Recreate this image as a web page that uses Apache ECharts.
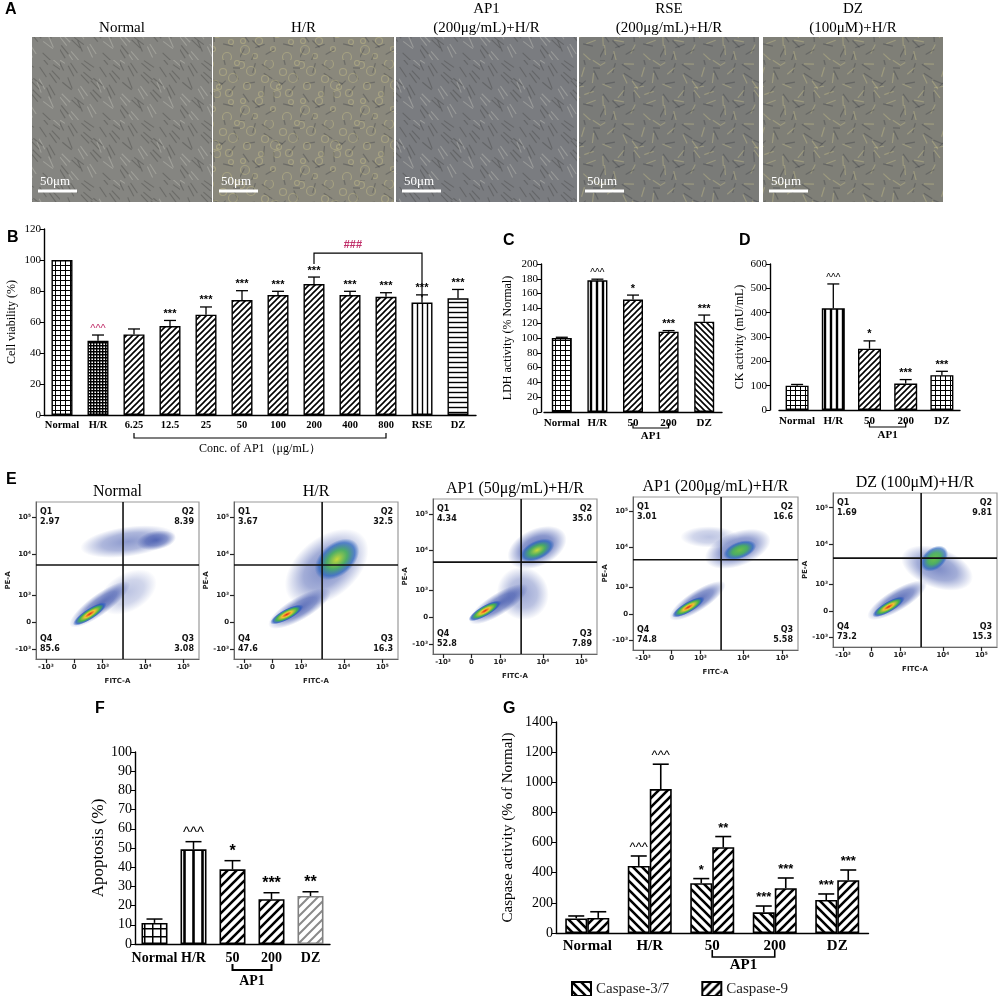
<!DOCTYPE html>
<html>
<head>
<meta charset="utf-8">
<title>AP1 H/R figure</title>
<script src="https://cdn.jsdelivr.net/npm/echarts@6.0.0/dist/echarts.min.js"></script>
<style>
html,body{margin:0;padding:0;background:#fff}
#fig{width:1000px;height:996px}
</style>
</head>
<body>
<div id="fig"></div>
<script>
// ---- data ----
// B: cell viability
var bCats = ['Normal', 'H/R', '6.25', '12.5', '25', '50', '100', '200', '400', '800', 'RSE', 'DZ'];
var bMean = [100, 47.9, 52, 57.4, 64.7, 74.2, 77.4, 84.5, 77.4, 76.3, 72.5, 75.3];
var bErr = [0, 3.7, 3.5, 3.6, 5, 6, 2.4, 4.5, 2.4, 2.6, 5, 5.7];
var bSig = ['', '^^^', '', '***', '***', '***', '***', '***', '***', '***', '***', '***'];
var bFill = ['grid', 'check', 'diag', 'diag', 'diag', 'diag', 'diag', 'diag', 'diag', 'diag', 'vert', 'horiz'];
var bCompare = [[7, 10, 104.5, 97.4, 76]]; // from cat, to cat, bar height, left leg end, right leg end

// C: LDH
var cCats = ['Normal', 'H/R', '50', '200', 'DZ'];
var cMean = [100, 178, 152, 108.5, 122];
var cErr = [1, 1.5, 6, 1.5, 9];
var cSig = ['', '^^^', '*', '***', '***'];
var cFill = ['grid', 'vbold', 'diag', 'diag', 'back'];

// D: CK
var dCats = ['Normal', 'H/R', '50', '200', 'DZ'];
var dMean = [100, 418, 252, 109, 143];
var dErr = [5, 100, 32, 16, 16];
var dSig = ['', '^^^', '*', '***', '***'];
var dFill = ['grid', 'vbold', 'diag', 'diag', 'grid'];

// E: flow cytometry quadrants
var eTitles = ['Normal', 'H/R', 'AP1 (50μg/mL)+H/R', 'AP1 (200μg/mL)+H/R', 'DZ (100μM)+H/R'];
var eQ1 = [2.97, 3.67, 4.34, 3.01, 1.69];
var eQ2 = [8.39, 32.5, 35.0, 16.6, 9.81];
var eQ3 = [3.08, 16.3, 7.89, 5.58, 15.3];
var eQ4 = [85.6, 47.6, 52.8, 74.8, 73.2];
var eGateX = [2.72, 2.74, 2.74, 2.72, 2.74];
var eGateY = [3.09, 3.09, 3.06, 3.04, 2.97];
var eTickPos = [0, 1, 2, 3.5, 4.85];
var eTickText = ['-10³', '0', '10³', '10⁴', '10⁵'];
// estimated cell populations: [centre x, centre y, half-width, half-height, angle deg, level]
var popNormal = [[2.9, 2.1, 1.1, 0.7, 30, 0.2], [2.9, 3.95, 1.7, 0.55, 8, 0.35], [3.9, 4.0, 0.7, 0.35, 10, 0.45],
    [1.9, 1.65, 1.3, 0.38, 36, 0.5], [1.55, 1.3, 0.7, 0.2, 33, 3]];
var popHR = [[2.9, 3.0, 1.7, 1.1, 40, 0.4], [3.26, 3.3, 0.9, 0.6, 40, 2],
    [1.95, 1.5, 1.25, 0.42, 30, 0.5], [1.5, 1.28, 0.65, 0.2, 28, 3]];
var popAP50 = [[2.8, 1.9, 0.9, 1.0, 30, 0.3], [3.3, 3.6, 1.1, 0.7, 25, 0.5], [3.3, 3.5, 0.65, 0.35, 25, 2],
    [1.95, 1.5, 1.2, 0.4, 32, 0.5], [1.47, 1.25, 0.65, 0.2, 30, 3]];
var popAP200 = [[2.3, 3.9, 1.0, 0.4, 0, 0.2], [3.3, 3.45, 1.2, 0.65, 20, 0.45], [3.37, 3.4, 0.6, 0.32, 20, 1.4],
    [1.9, 1.5, 1.15, 0.38, 33, 0.5], [1.58, 1.26, 0.65, 0.2, 30, 3]];
var popDZ = [[3.3, 2.6, 0.7, 1.4, 70, 0.4], [3.2, 2.95, 0.55, 0.4, 40, 1.4],
    [1.9, 1.4, 1.2, 0.4, 31, 0.5], [1.6, 1.15, 0.65, 0.2, 30, 3]];

// F: apoptosis
var fCats = ['Normal', 'H/R', '50', '200', 'DZ'];
var fMean = [11, 49.3, 38.9, 23.3, 25];
var fErr = [2, 4, 4.5, 3.4, 2.2];
var fSig = ['', '^^^', '*', '***', '**'];
var fFill = ['gridL', 'vboldL', 'diagL', 'diagL', 'diagGray'];

// G: caspase activity
var gCats = ['Normal', 'H/R', '50', '200', 'DZ'];
var gNames = ['Caspase-3/7', 'Caspase-9'];
var g37Mean = [97, 445, 330, 137, 219];
var g37Err = [16, 66, 31, 42, 40];
var g37Sig = ['', '^^^', '*', '***', '***'];
var g9Mean = [100, 955, 569, 297, 350];
var g9Err = [41, 165, 71, 68, 68];
var g9Sig = ['', '^^^', '**', '***', '***'];

// A: micrograph panel captions
var aTitles = [['Normal'], ['H/R'], ['AP1', '(200μg/mL)+H/R'], ['RSE', '(200μg/mL)+H/R'], ['DZ', '(100μM)+H/R']];

var SERIF = '"Liberation Serif","Times New Roman",serif';
var SANS = '"Liberation Sans",Arial,sans-serif';

// hatch fills
function pattern(kind, size, lw, color) {
    var c = document.createElement('canvas');
    c.width = size; c.height = size;
    var g = c.getContext('2d');
    g.fillStyle = '#fff';
    g.fillRect(0, 0, size, size);
    g.strokeStyle = color || '#000';
    g.lineWidth = lw;
    g.beginPath();
    if (kind == 'grid') {
        g.moveTo(0, lw / 2); g.lineTo(size, lw / 2);
        g.moveTo(lw / 2, 0); g.lineTo(lw / 2, size);
    } else if (kind == 'vert') {
        g.moveTo(size / 2, 0); g.lineTo(size / 2, size);
    } else if (kind == 'horiz') {
        g.moveTo(0, size / 2); g.lineTo(size, size / 2);
    } else if (kind == 'diag') {
        g.moveTo(0, size); g.lineTo(size, 0);
        g.moveTo(-size / 2, size / 2); g.lineTo(size / 2, -size / 2);
        g.moveTo(size / 2, size * 1.5); g.lineTo(size * 1.5, size / 2);
    } else {
        g.moveTo(0, 0); g.lineTo(size, size);
        g.moveTo(-size / 2, size / 2); g.lineTo(size / 2, size * 1.5);
        g.moveTo(size / 2, -size / 2); g.lineTo(size * 1.5, size / 2);
    }
    g.stroke();
    return {image: c, repeat: 'repeat'};
}
var PAT = {
    grid: pattern('grid', 5, 1),
    check: pattern('grid', 3, 1.4),
    diag: pattern('diag', 6, 1.6),
    back: pattern('back', 6, 1.6),
    vert: pattern('vert', 5, 1.4),
    horiz: pattern('horiz', 5, 1.4),
    vbold: pattern('vert', 6, 2.4),
    gridL: pattern('grid', 8, 1.5),
    vboldL: pattern('vert', 9, 2.6),
    diagL: pattern('diag', 9, 2.6),
    backL: pattern('back', 9, 2.6),
    diagGray: pattern('diag', 9, 2, '#8a8a8a')
};

// rough phase-contrast look for the micrograph placeholders
function texture(tone, kind) {
    var c = document.createElement('canvas');
    c.width = 60; c.height = 60;
    var g = c.getContext('2d');
    g.fillStyle = tone;
    g.fillRect(0, 0, 60, 60);
    for (var i = 0; i < 40; i++) {
        var x = (i * 37) % 60, y = (i * 23 + (i % 7) * 11) % 60;
        var a = ((i * 53) % 180) * Math.PI / 180;
        if (kind == 'spindle') {
            g.strokeStyle = i % 3 ? 'rgba(60,60,58,0.35)' : 'rgba(200,200,190,0.4)';
            g.lineWidth = 1.1;
            g.beginPath();
            g.moveTo(x - 6 * Math.cos(0.6 + a * 0.2), y - 6 * Math.sin(0.6 + a * 0.2));
            g.lineTo(x + 6 * Math.cos(0.6 + a * 0.2), y + 6 * Math.sin(0.6 + a * 0.2));
            g.stroke();
        } else {
            g.strokeStyle = i % 2 ? 'rgba(215,205,140,0.35)' : 'rgba(55,58,65,0.35)';
            g.lineWidth = 1.2;
            g.beginPath();
            if (kind == 'blob' && i % 2) g.arc(x, y, 2.5 + (i % 3), 0, Math.PI * 2);
            else { g.moveTo(x - 5 * Math.cos(a), y - 5 * Math.sin(a)); g.lineTo(x + 5 * Math.cos(a), y + 5 * Math.sin(a)); }
            g.stroke();
        }
    }
    return {image: c, repeat: 'repeat'};
}

// ---- helpers ----
function barX(idx, cats, fs, margin) {
    return {
        gridIndex: idx, type: 'category', data: cats,
        axisLine: {lineStyle: {color: '#000', width: 1.4}},
        axisTick: {alignWithLabel: true, length: 4, lineStyle: {color: '#000'}},
        axisLabel: {fontFamily: SERIF, fontWeight: 'bold', fontSize: fs, color: '#000', margin: margin, interval: 0}
    };
}
function barY(idx, max, step, name, fs, nfs, gap, offset) {
    return {
        gridIndex: idx, type: 'value', min: 0, max: max, interval: step, offset: offset || 0,
        name: name, nameLocation: 'middle', nameGap: gap,
        nameTextStyle: {fontFamily: SERIF, fontSize: nfs, color: '#000'},
        axisLine: {show: true, lineStyle: {color: '#000', width: 1.4}},
        axisTick: {show: true, length: 4, lineStyle: {color: '#000'}},
        axisLabel: {fontFamily: SERIF, fontSize: fs, color: '#000', margin: 3, formatter: function (v) { return String(v); }},
        splitLine: {show: false}
    };
}
function bars(idx, name, means, fills, width, lw) {
    return {
        type: 'bar', name: name, xAxisIndex: idx, yAxisIndex: idx, barWidth: width,
        data: means.map(function (m, i) {
            return {value: m, itemStyle: {color: PAT[fills[i]], borderColor: fills[i] == 'diagGray' ? '#808080' : '#000'}};
        }),
        itemStyle: {borderColor: '#000', borderWidth: lw}
    };
}
function errors(idx, means, errs, sigs, o) {
    return {
        type: 'custom', xAxisIndex: idx, yAxisIndex: idx, z: 5,
        data: means.map(function (m, i) { return [i, m, errs[i]]; }),
        renderItem: function (params, api) {
            var i = api.value(0), m = api.value(1), e = api.value(2);
            var p0 = api.coord([i, m]), p1 = api.coord([i, m + e]);
            var x = p0[0] + (o.off || 0);
            var kids = [];
            var ls = {stroke: '#000', lineWidth: o.lw};
            if (e > 0) {
                kids.push({type: 'line', shape: {x1: x, y1: p0[1], x2: x, y2: p1[1]}, style: ls});
                kids.push({type: 'line', shape: {x1: x - o.cap, y1: p1[1], x2: x + o.cap, y2: p1[1]}, style: ls});
            }
            var s = sigs[params.dataIndex];
            if (s) {
                kids.push({
                    type: 'text', x: x, y: p1[1] - o.gap,
                    style: {text: s, font: s == '^^^' ? o.caretFont : o.font, fill: s == '^^^' && o.caretColor ? o.caretColor : '#000',
                        align: 'center', verticalAlign: 'bottom'}
                });
            }
            return {type: 'group', children: kids};
        }
    };
}
function bracket(idx, span, label, o) {
    return {
        type: 'custom', xAxisIndex: idx, yAxisIndex: idx, silent: true,
        data: [span],
        renderItem: function (params, api) {
            var a = api.coord([api.value(0), 0]), b = api.coord([api.value(1), 0]);
            var y = a[1] + o.dy;
            return {type: 'group', children: [
                {type: 'polyline', shape: {points: [[a[0], y - o.tick], [a[0], y], [b[0], y], [b[0], y - o.tick]]},
                    style: {stroke: '#000', lineWidth: o.lw, fill: null}},
                {type: 'text', x: (a[0] + b[0]) / 2 + (o.tx || 0), y: y + o.ty,
                    style: {text: label, font: o.font, fill: '#000', align: 'center', verticalAlign: 'top'}}
            ]};
        }
    };
}

// ---- layout ----
var flowBox = [
    {left: 36, top: 502, width: 163, height: 157},
    {left: 234, top: 502, width: 164, height: 157},
    {left: 433, top: 499, width: 164, height: 155},
    {left: 633, top: 497, width: 165, height: 153},
    {left: 833, top: 493, width: 164, height: 154}
];
var grids = [
    {left: 44, top: 229, width: 432, height: 186},
    {left: 544, top: 264, width: 178, height: 148},
    {left: 779, top: 264, width: 181, height: 146}
];
flowBox.forEach(function (b) {
    grids.push({left: b.left, top: b.top, width: b.width, height: b.height, show: true, borderColor: '#9a9a9a', borderWidth: 1.2});
});
grids.push({left: 135, top: 752, width: 195, height: 192});
grids.push({left: 556, top: 722, width: 312.5, height: 211});
grids.forEach(function (g) { g.outerBoundsMode = 'none'; });

var xAxes = [barX(0, bCats, 10.5, 5), barX(1, cCats, 11, 6), barX(2, dCats, 11, 6)];
var yAxes = [
    barY(0, 120, 20, 'Cell viability (%)', 11, 12, 26),
    barY(1, 200, 20, 'LDH activity (% Normal)', 11, 12, 27, 3),
    barY(2, 600, 100, 'CK activity (mU/mL)', 11, 12, 24, 9)
];
function flowLabel(v) {
    var k = eTickPos.indexOf(v);
    return k < 0 ? '' : eTickText[k];
}
for (var k = 0; k < 5; k++) {
    var common = {
        gridIndex: 3 + k, type: 'value', min: -0.35, max: 5.4,
        axisLine: {show: true, onZero: false, lineStyle: {color: '#666', width: 1}},
        axisTick: {show: true, customValues: eTickPos, length: 4, lineStyle: {color: '#222', width: 1.2}},
        axisLabel: {customValues: eTickPos, formatter: flowLabel, fontFamily: '"DejaVu Sans",sans-serif', fontSize: 7, fontWeight: 'bold', color: '#222', margin: 5},
        splitLine: {show: false},
        nameLocation: 'middle',
        nameTextStyle: {fontFamily: '"DejaVu Sans",sans-serif', fontSize: 7, fontWeight: 'bold', color: '#222'}
    };
    xAxes.push(Object.assign({}, common, {name: 'FITC-A', nameGap: 19}));
    yAxes.push(Object.assign({}, common, {name: 'PE-A', nameGap: 22}));
}
xAxes.push(barX(8, fCats, 14, 7));
yAxes.push(barY(8, 100, 10, 'Apoptosis (%)', 14, 17, 27));
xAxes.push(barX(9, gCats, 15, 6));
yAxes.push(barY(9, 1400, 200, 'Caspase activity (% of Normal)', 14, 15, 40));

// ---- series ----
var series = [];
series.push(bars(0, 'B', bMean, bFill, 21, 1.4));
series.push(errors(0, bMean, bErr, bSig, {lw: 1.3, cap: 6, gap: 1, font: 'bold 11px ' + SANS, caretFont: '11px ' + SANS, caretColor: '#c0306a'}));
series.push(bracket(0, [2, 9], 'Conc. of AP1（μg/mL）', {dy: 23, tick: 5, lw: 1.2, ty: 5, font: '12px ' + SERIF}));
series.push({
    type: 'custom', xAxisIndex: 0, yAxisIndex: 0, silent: true, data: bCompare,
    renderItem: function (params, api) {
        var a = api.coord([api.value(0), api.value(2)]), b = api.coord([api.value(1), api.value(2)]);
        var la = api.coord([api.value(0), api.value(3)]), rb = api.coord([api.value(1), api.value(4)]);
        return {type: 'group', children: [
            {type: 'polyline', shape: {points: [[a[0], la[1]], [a[0], a[1]], [b[0], b[1]], [b[0], rb[1]]]},
                style: {stroke: '#000', lineWidth: 1.2, fill: null}},
            {type: 'text', x: a[0] + (b[0] - a[0]) * 0.36, y: a[1] - 3,
                style: {text: '###', font: 'bold 11px ' + SANS, fill: '#c0306a', align: 'center', verticalAlign: 'bottom'}}
        ]};
    }
});

series.push(bars(1, 'C', cMean, cFill, 20, 1.4));
series.push(errors(1, cMean, cErr, cSig, {lw: 1.3, cap: 6, gap: 1, font: 'bold 11px ' + SANS, caretFont: '10px ' + SANS}));
series.push(bracket(1, [2, 3], 'AP1', {dy: 16, tick: 5, lw: 1.2, ty: 3, font: 'bold 11px ' + SERIF}));

series.push(bars(2, 'D', dMean, dFill, 23, 1.4));
series.push(errors(2, dMean, dErr, dSig, {lw: 1.3, cap: 6, gap: 1, font: 'bold 11px ' + SANS, caretFont: '10px ' + SANS}));
series.push(bracket(2, [2, 3], 'AP1', {dy: 17, tick: 5, lw: 1.2, ty: 3, font: 'bold 11px ' + SERIF}));

// density blobs for the estimated populations
function blobFill(level) {
    if (level >= 3) {
        return {type: 'radial', x: 0.5, y: 0.5, r: 0.5, colorStops: [
            {offset: 0, color: '#e3201b'}, {offset: 0.3, color: '#f2c230'}, {offset: 0.6, color: '#45b54a'},
            {offset: 0.82, color: 'rgba(40,90,190,0.8)'}, {offset: 1, color: 'rgba(40,90,190,0)'}]};
    }
    if (level >= 1) {
        return {type: 'radial', x: 0.5, y: 0.5, r: 0.5, colorStops: [
            {offset: 0, color: level >= 2 ? '#c9d93a' : '#6cc04a'}, {offset: 0.45, color: 'rgba(70,175,90,0.9)'},
            {offset: 0.8, color: 'rgba(40,100,190,0.7)'}, {offset: 1, color: 'rgba(40,100,190,0)'}]};
    }
    var a = Math.min(1, level * 1.5);
    return {type: 'radial', x: 0.5, y: 0.5, r: 0.5, colorStops: [
        {offset: 0, color: 'rgba(35,60,160,' + a + ')'}, {offset: 0.55, color: 'rgba(35,60,160,' + (a * 0.7) + ')'},
        {offset: 1, color: 'rgba(35,60,160,0)'}]};
}
function popSeries(k, pops) {
    return {
        type: 'custom', xAxisIndex: 3 + k, yAxisIndex: 3 + k, silent: true, z: 1, clip: true,
        data: pops,
        renderItem: function (params, api) {
            var p = api.coord([api.value(0), api.value(1)]);
            var s = api.size([api.value(2), api.value(3)]);
            var rx = Math.max(s[0], 1), ry = Math.max(s[1], 1);
            return {
                type: 'circle', x: p[0], y: p[1], rotation: api.value(4) * Math.PI / 180, scaleY: ry / rx,
                shape: {cx: 0, cy: 0, r: rx},
                style: {fill: blobFill(api.value(5))}
            };
        }
    };
}
[popNormal, popHR, popAP50, popAP200, popDZ].forEach(function (pops, k) { series.push(popSeries(k, pops)); });

function flowSeries(k) {
    return {
        type: 'custom', xAxisIndex: 3 + k, yAxisIndex: 3 + k, silent: true, z: 4,
        data: [[eGateX[k], eGateY[k]]],
        renderItem: function (params, api) {
            var cs = params.coordSys;
            var p = api.coord([api.value(0), api.value(1)]);
            var st = {stroke: '#111', lineWidth: 1.6};
            function t(x, y, s, al, va) {
                return {type: 'text', x: x, y: y, style: {text: s, font: 'bold 8px "DejaVu Sans",sans-serif', fill: '#111', align: al, verticalAlign: va, lineHeight: 10}};
            }
            return {type: 'group', children: [
                {type: 'line', shape: {x1: p[0], y1: cs.y, x2: p[0], y2: cs.y + cs.height}, style: st},
                {type: 'line', shape: {x1: cs.x, y1: p[1], x2: cs.x + cs.width, y2: p[1]}, style: st},
                t(cs.x + 4, cs.y + 5, 'Q1\n' + eQ1[k].toPrecision(3), 'left', 'top'),
                t(cs.x + cs.width - 5, cs.y + 5, 'Q2\n' + eQ2[k].toPrecision(3), 'right', 'top'),
                t(cs.x + 4, cs.y + cs.height - 5, 'Q4\n' + eQ4[k].toPrecision(3), 'left', 'bottom'),
                t(cs.x + cs.width - 5, cs.y + cs.height - 5, 'Q3\n' + eQ3[k].toPrecision(3), 'right', 'bottom')
            ]};
        }
    };
}
for (var k2 = 0; k2 < 5; k2++) series.push(flowSeries(k2));

series.push(bars(8, 'F', fMean, fFill, 26, 1.6));
series.push(errors(8, fMean, fErr, fSig, {lw: 1.5, cap: 8, gap: 1, font: 'bold 16px ' + SANS, caretFont: '15px ' + SANS}));
series.push(bracket(8, [2, 3], 'AP1', {dy: 26, tick: 6, lw: 2, ty: 4, font: 'bold 14px ' + SERIF}));

series.push({
    type: 'bar', name: gNames[0], xAxisIndex: 9, yAxisIndex: 9, barWidth: 22, barGap: '0%',
    data: g37Mean, itemStyle: {color: PAT.backL, borderColor: '#000', borderWidth: 1.6}
});
series.push({
    type: 'bar', name: gNames[1], xAxisIndex: 9, yAxisIndex: 9, barWidth: 22, barGap: '0%',
    data: g9Mean, itemStyle: {color: PAT.diagL, borderColor: '#000', borderWidth: 1.6}
});
series.push(errors(9, g37Mean, g37Err, g37Sig, {off: -11, lw: 1.6, cap: 8, gap: 2, font: 'bold 13px ' + SANS, caretFont: '13px ' + SANS}));
series.push(errors(9, g9Mean, g9Err, g9Sig, {off: 11, lw: 1.6, cap: 8, gap: 2, font: 'bold 13px ' + SANS, caretFont: '13px ' + SANS}));
series.push(bracket(9, [2, 3], 'AP1', {dy: 24, tick: 7, lw: 1.6, ty: 1, font: 'bold 15px ' + SERIF}));

// ---- graphics: micrographs, captions, panel letters ----
var aBoxes = [[32, 37, 180, 165], [213, 37, 181, 165], [396, 37, 181, 165], [579, 37, 180, 165], [763, 37, 180, 165]];
var aTone = ['#858581', '#8a887c', '#7a7c80', '#7a7b78', '#7f7f77'];
var aKind = ['spindle', 'blob', 'spindle', 'mixed', 'mixed'];
var graphics = [];
aBoxes.forEach(function (b, i) {
    graphics.push({type: 'rect', shape: {x: b[0], y: b[1], width: b[2], height: b[3]}, style: {fill: texture(aTone[i], aKind[i])}, silent: true});
    graphics.push({type: 'line', shape: {x1: b[0] + 6, y1: b[1] + 154, x2: b[0] + 45, y2: b[1] + 154}, style: {stroke: '#fff', lineWidth: 3}});
    graphics.push({type: 'text', x: b[0] + 8, y: b[1] + 151, style: {text: '50μm', font: '13px ' + SERIF, fill: '#fff', verticalAlign: 'bottom'}});
    var lines = aTitles[i];
    lines.forEach(function (s, j) {
        graphics.push({type: 'text', x: b[0] + b[2] / 2, y: 36 - (lines.length - 1 - j) * 19,
            style: {text: s, font: '15px ' + SERIF, fill: '#000', align: 'center', verticalAlign: 'bottom'}});
    });
});
flowBox.forEach(function (b, i) {
    graphics.push({type: 'text', x: b.left + b.width / 2, y: b.top - 2,
        style: {text: eTitles[i], font: '16px ' + SERIF, fill: '#000', align: 'center', verticalAlign: 'bottom'}});
});
[['A', 5, 2], ['B', 7, 230], ['C', 503, 233], ['D', 739, 233], ['E', 6, 472], ['F', 95, 701], ['G', 503, 701]].forEach(function (l) {
    graphics.push({type: 'text', x: l[1], y: l[2], style: {text: l[0], font: 'bold 16px ' + SANS, fill: '#000'}});
});

var chart = echarts.init(document.getElementById('fig'), null, {renderer: 'canvas'});
chart.setOption({
    animation: false,
    backgroundColor: '#fff',
    grid: grids,
    xAxis: xAxes,
    yAxis: yAxes,
    legend: {
        data: gNames, left: 566, top: 976, icon: 'rect', itemWidth: 19, itemHeight: 14, itemGap: 32,
        textStyle: {fontFamily: SERIF, fontSize: 15, color: '#222'}, selectedMode: false
    },
    graphic: graphics,
    series: series
});
</script>
</body>
</html>
